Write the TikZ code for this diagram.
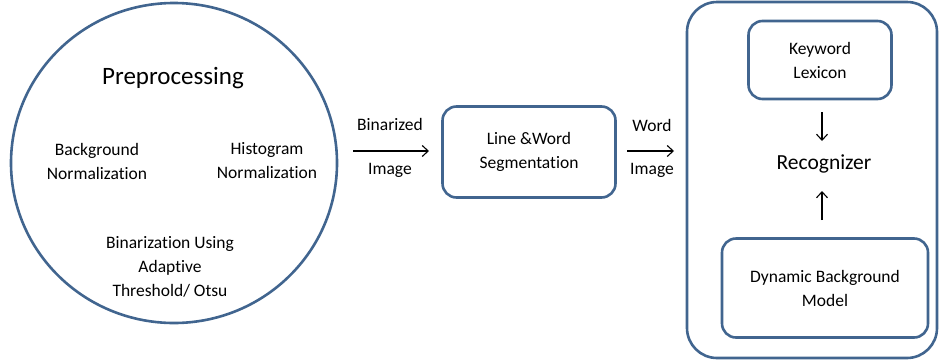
\documentclass[tikz,border=0pt]{standalone}
\usepackage{fontspec}
\setmainfont{Carlito}[Ligatures=NoCommon]
\usetikzlibrary{arrows.meta,shapes.geometric}
\definecolor{frame}{HTML}{41658F}
\tikzset{
  txt/.style={align=center,font=\fontsize{17.5}{24}\selectfont,inner sep=0pt},
  big/.style={align=center,font=\fontsize{25}{30}\selectfont,inner sep=0pt},
  rbox/.style={draw=frame,line width=2.6pt,rounded corners=14pt},
  arr/.style={-{Straight Barb[length=6pt,width=11pt,line width=1.1pt]},line width=1.1pt}
}
\begin{document}
\begin{tikzpicture}[x=1pt,y=-1pt]
\useasboundingbox (0,0) rectangle (941,362);
% preprocessing circle
\node[draw=frame,line width=2.6pt,ellipse,minimum width=326pt,minimum height=320pt,inner sep=0pt] (pre) at (174,163) {};
\node[big] (pt) at (173,78) {Preprocessing};
\node[txt] (bg) at (97,161) {Background\\Normalization};
\node[txt] (hist) at (267,161) {Histogram\\Normalization};
\node[txt] (bin) at (170,267) {Binarization Using\\Adaptive\\Threshold/ Otsu};
% first arrow
\coordinate (a1s) at (353,151);
\coordinate (a1e) at (429,151);
\draw[arr] (a1s) -- (a1e);
\node[txt] (l1a) at (390,124) {Binarized};
\node[txt] (l1b) at (390,170) {Image};
% segmentation box
\node[rbox,minimum width=173pt,minimum height=91pt,txt,draw=frame] (seg) at (529,152) {Line \&Word\\Segmentation};
% second arrow
\coordinate (a2s) at (627,151);
\coordinate (a2e) at (674,151);
\draw[arr] (a2s) -- (a2e);
\node[txt] (l2a) at (652,125) {Word};
\node[txt] (l2b) at (652,170) {Image};
% recognizer frame
\node[draw=frame,line width=2.6pt,rounded corners=30pt,minimum width=250pt,minimum height=356pt,inner sep=0pt] (rec) at (812,180) {};
\node[rbox,minimum width=143pt,minimum height=78pt,txt,draw=frame] (lex) at (820,60) {Keyword\\Lexicon};
\node[align=center,font=\fontsize{21.5}{26}\selectfont,inner sep=0pt] (recog) at (824,164) {Recognizer};
\node[rbox,minimum width=206pt,minimum height=99pt,txt,draw=frame] (dyn) at (825,288) {Dynamic Background\\Model};
\coordinate (d1s) at (822,112);
\coordinate (d1e) at (822,141);
\draw[arr] (d1s) -- (d1e);
\coordinate (u1s) at (822,220);
\coordinate (u1e) at (822,191);
\draw[arr] (u1s) -- (u1e);
\end{tikzpicture}
\end{document}
